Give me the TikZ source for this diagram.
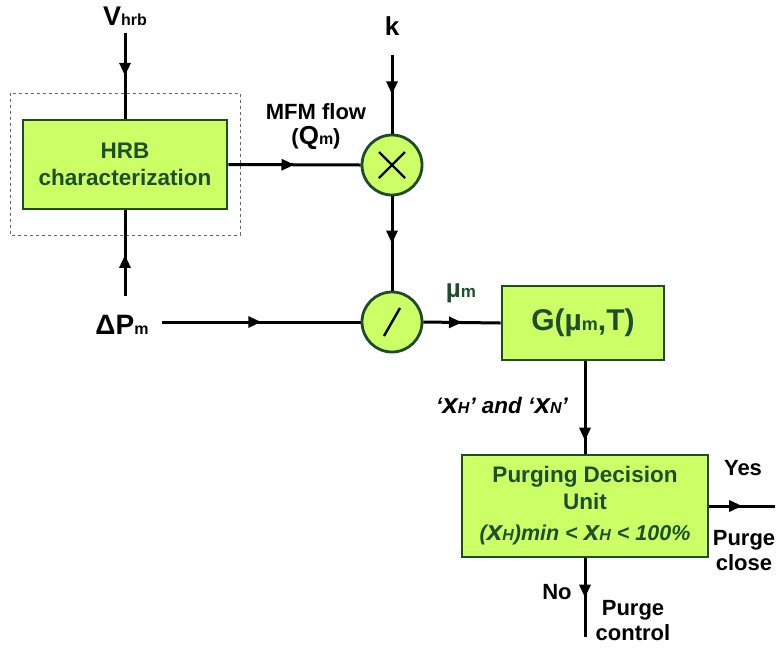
\documentclass[tikz,border=0pt]{standalone}
\usepackage{fontspec}
\setmainfont{Liberation Sans}
\usetikzlibrary{arrows.meta,decorations.markings,calc}
\definecolor{boxfill}{RGB}{204,255,102}
\definecolor{boxline}{RGB}{30,75,40}
\definecolor{txtgreen}{RGB}{31,78,47}
\newcommand{\sbs}[2][16]{{\fontsize{#1}{#1}\selectfont #2}}
\newcommand{\bigx}[2][26]{{\fontsize{#1}{#1}\selectfont #2}}
\tikzset{
  block/.style={draw=boxline, fill=boxfill, line width=2.8pt, text=txtgreen,
    font=\bfseries\fontsize{22.5}{27}\selectfont, align=center, inner sep=0pt},
  op/.style={circle, draw=boxline, fill=boxfill, line width=2.8pt, minimum size=60pt, inner sep=0pt},
  wire/.style={line width=3pt},
  lbl/.style={font=\bfseries\fontsize{22}{25}\selectfont, align=center, inner sep=0pt},
  biglbl/.style={font=\bfseries\fontsize{27}{30}\selectfont, align=center, inner sep=0pt},
  midarrow/.style={postaction={decorate}, decoration={markings,
    mark=at position #1 with {\arrow{Triangle[length=13pt,width=11pt]}}}},
}
\begin{document}
\begin{tikzpicture}[x=1pt,y=-1pt]
\useasboundingbox (0,0) rectangle (777,649);
% dashed frame
\draw[gray!80!black, dashed, line width=0.8pt] (10,93) rectangle (240,235);
% blocks
\node[block, minimum width=204pt, minimum height=89pt] (hrb) at (125,164.5) {HRB\\characterization};
\node[op] (mul) at (392,165) {};
\node[op] (div) at (392,322) {};
\node[block, minimum width=162pt, minimum height=74pt, font=\bfseries\fontsize{30}{32}\selectfont] (g) at (583,323) {G(µ\sbs[18]{m},T)};
\node[block, minimum width=246pt, minimum height=102pt] (pdu) at (585,506)
  {Purging Decision\\Unit\\[4pt]{\itshape\fontsize{21.5}{22}\selectfont (\bigx[28]{x}\sbs[16]{H})min < \bigx[28]{x}\sbs[16]{H} < 100\%}};
% symbols inside operators
\draw[line width=2.4pt] ($(mul)+(-13,-13)$) -- ($(mul)+(13,13)$);
\draw[line width=2.4pt] ($(mul)+(-13,13)$) -- ($(mul)+(13,-13)$);
\draw[line width=2.4pt] ($(div)+(-8,14)$) -- ($(div)+(8,-14)$);
% free ends
\coordinate (vin) at (125,33);
\coordinate (kin) at (392,55);
\coordinate (dpin) at (162,322);
\coordinate (dpup) at (125,296);
\coordinate (yesout) at (775,506);
\coordinate (noout) at (585,637);
% wires
\draw[wire, midarrow=0.5] (vin) -- (hrb.north);
\draw[wire, midarrow=0.48] (dpup) -- (hrb.south);
\draw[wire, midarrow=0.5] (hrb.east) -- (mul.west);
\draw[wire, midarrow=0.5] (kin) -- (mul.north);
\draw[wire, midarrow=0.5] (mul.south) -- (div.north);
\draw[wire, midarrow=0.5] (dpin) -- (div.west);
\draw[wire, midarrow=0.5] (div.east) -- (g.west);
\draw[wire, midarrow=0.86] (g.south -| pdu.north) -- (pdu.north);
\draw[wire, midarrow=0.5] (pdu.east) -- (yesout);
\draw[wire, midarrow=0.5] (pdu.south) -- (noout);
% labels
\node[biglbl] (lv) at (125,16) {V\sbs{hrb}};
\node[biglbl, font=\bfseries\fontsize{26}{30}\selectfont] (lk) at (392,26) {k};
\node[lbl] (lmfm) at (316,127) {MFM flow\\(\bigx{Q}\sbs{m})};
\node[biglbl, font=\bfseries\fontsize{28}{30}\selectfont] (ldp) at (122,325) {ΔP\sbs{m}};
\node[lbl, text=txtgreen, font=\bfseries\fontsize{26}{28}\selectfont] (lmu) at (461,293) {µ\sbs[17]{m}};
\node[lbl, font=\bfseries\itshape\fontsize{22.5}{24}\selectfont] (lx) at (502,405) {‘\bigx[28]{x}\sbs[16]{H}’ and ‘\bigx[28]{x}\sbs[16]{N}’};
\node[lbl] (lyes) at (743,468) {Yes};
\node[lbl] (lclose) at (744,551) {Purge\\close};
\node[lbl] (lno) at (557,592) {No};
\node[lbl] (lctrl) at (633,621) {Purge\\control};
\end{tikzpicture}
\end{document}
